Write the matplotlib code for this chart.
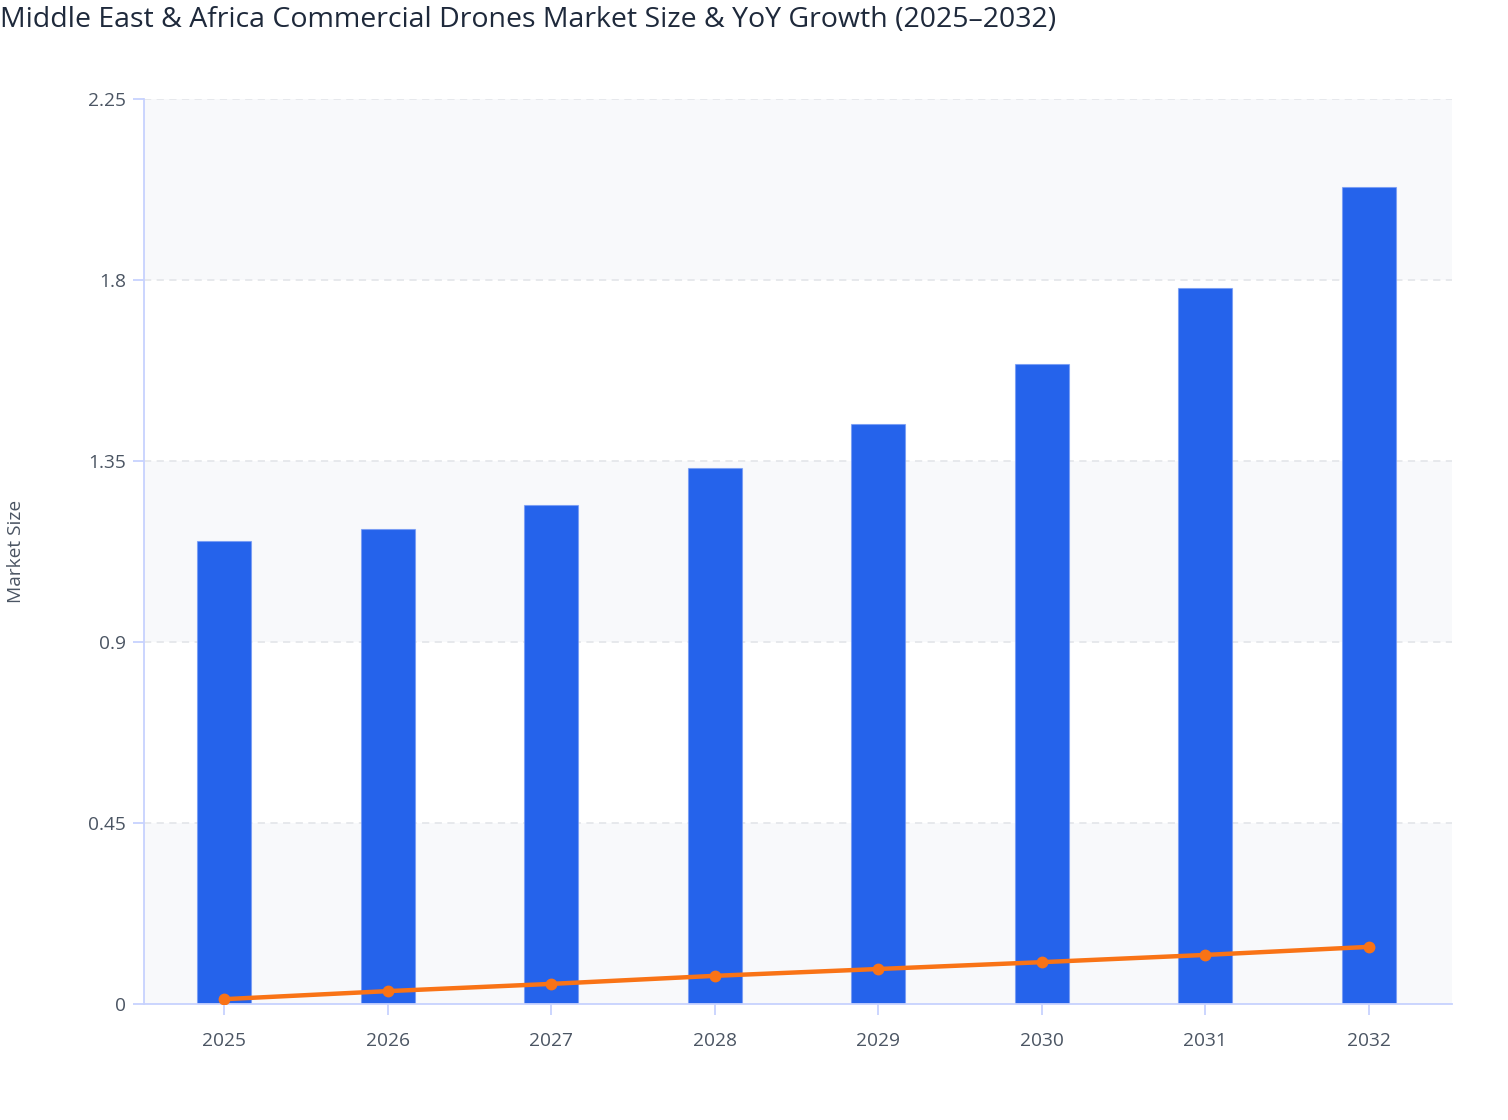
import matplotlib
matplotlib.use("Agg")
import matplotlib.pyplot as plt
import numpy as np

years = ["2025", "2026", "2027", "2028", "2029", "2030", "2031", "2032"]
market_size = [1.151, 1.181, 1.241, 1.333, 1.442, 1.591, 1.780, 2.031]
yoy_growth = [0.012, 0.032, 0.050, 0.070, 0.087, 0.104, 0.122, 0.142]
y_ticks = [0, 0.45, 0.9, 1.35, 1.8, 2.25]
y_tick_labels = ["0", "0.45", "0.9", "1.35", "1.8", "2.25"]

plt.rcParams['font.family'] = ['Open Sans', 'DejaVu Sans']

fig = plt.figure(figsize=(15.08, 11.2), dpi=100)
ax = fig.add_axes([144/1508, 1 - 1004/1120, (1452-144)/1508, (1004-99)/1120])

x = np.arange(len(years))
axis_col = "#c7d2fe"

# alternating bands
for i in range(len(y_ticks) - 1):
    if i % 2 == 0:
        ax.axhspan(y_ticks[i], y_ticks[i+1], color="#f8f9fb", zorder=0, lw=0)

for yt in y_ticks[1:]:
    ax.axhline(yt, color="#e5e7eb", lw=1.3, ls=(0, (4, 3)), zorder=1)

ax.bar(x, market_size, width=0.33, color="#2563eb", edgecolor=(0.45, 0.6, 0.96, 0.7),
       linewidth=0.8, zorder=2)
ax.plot(x, yoy_growth, color="#f97316", lw=3.2, marker="o", markersize=7.5, zorder=3,
        solid_capstyle="round")

ax.set_xlim(-0.49, 7.51)
ax.set_ylim(0, 2.25)
ax.set_xticks(x)
ax.set_xticklabels(years)
ax.set_yticks(y_ticks)
ax.set_yticklabels(y_tick_labels)

for s in ["top", "right"]:
    ax.spines[s].set_visible(False)
for s in ["left", "bottom"]:
    ax.spines[s].set_color(axis_col)
    ax.spines[s].set_linewidth(1.3)

ax.tick_params(axis="both", colors=axis_col, length=8, width=1.3, labelsize=13.8,
               labelcolor="#4b5563")
ax.tick_params(axis="x", pad=12)
ax.tick_params(axis="y", pad=5)

ax.set_ylabel("Market Size", fontsize=13.8, color="#4b5563")
ax.yaxis.set_label_coords(-0.091, 0.5)

fig.text(0.0, 1 - 20/1120, "Middle East & Africa Commercial Drones Market Size & YoY Growth (2025\u20132032)",
         fontsize=20.5, color="#1e293b", ha="left", va="center")

fig.savefig("out.png", dpi=100)
